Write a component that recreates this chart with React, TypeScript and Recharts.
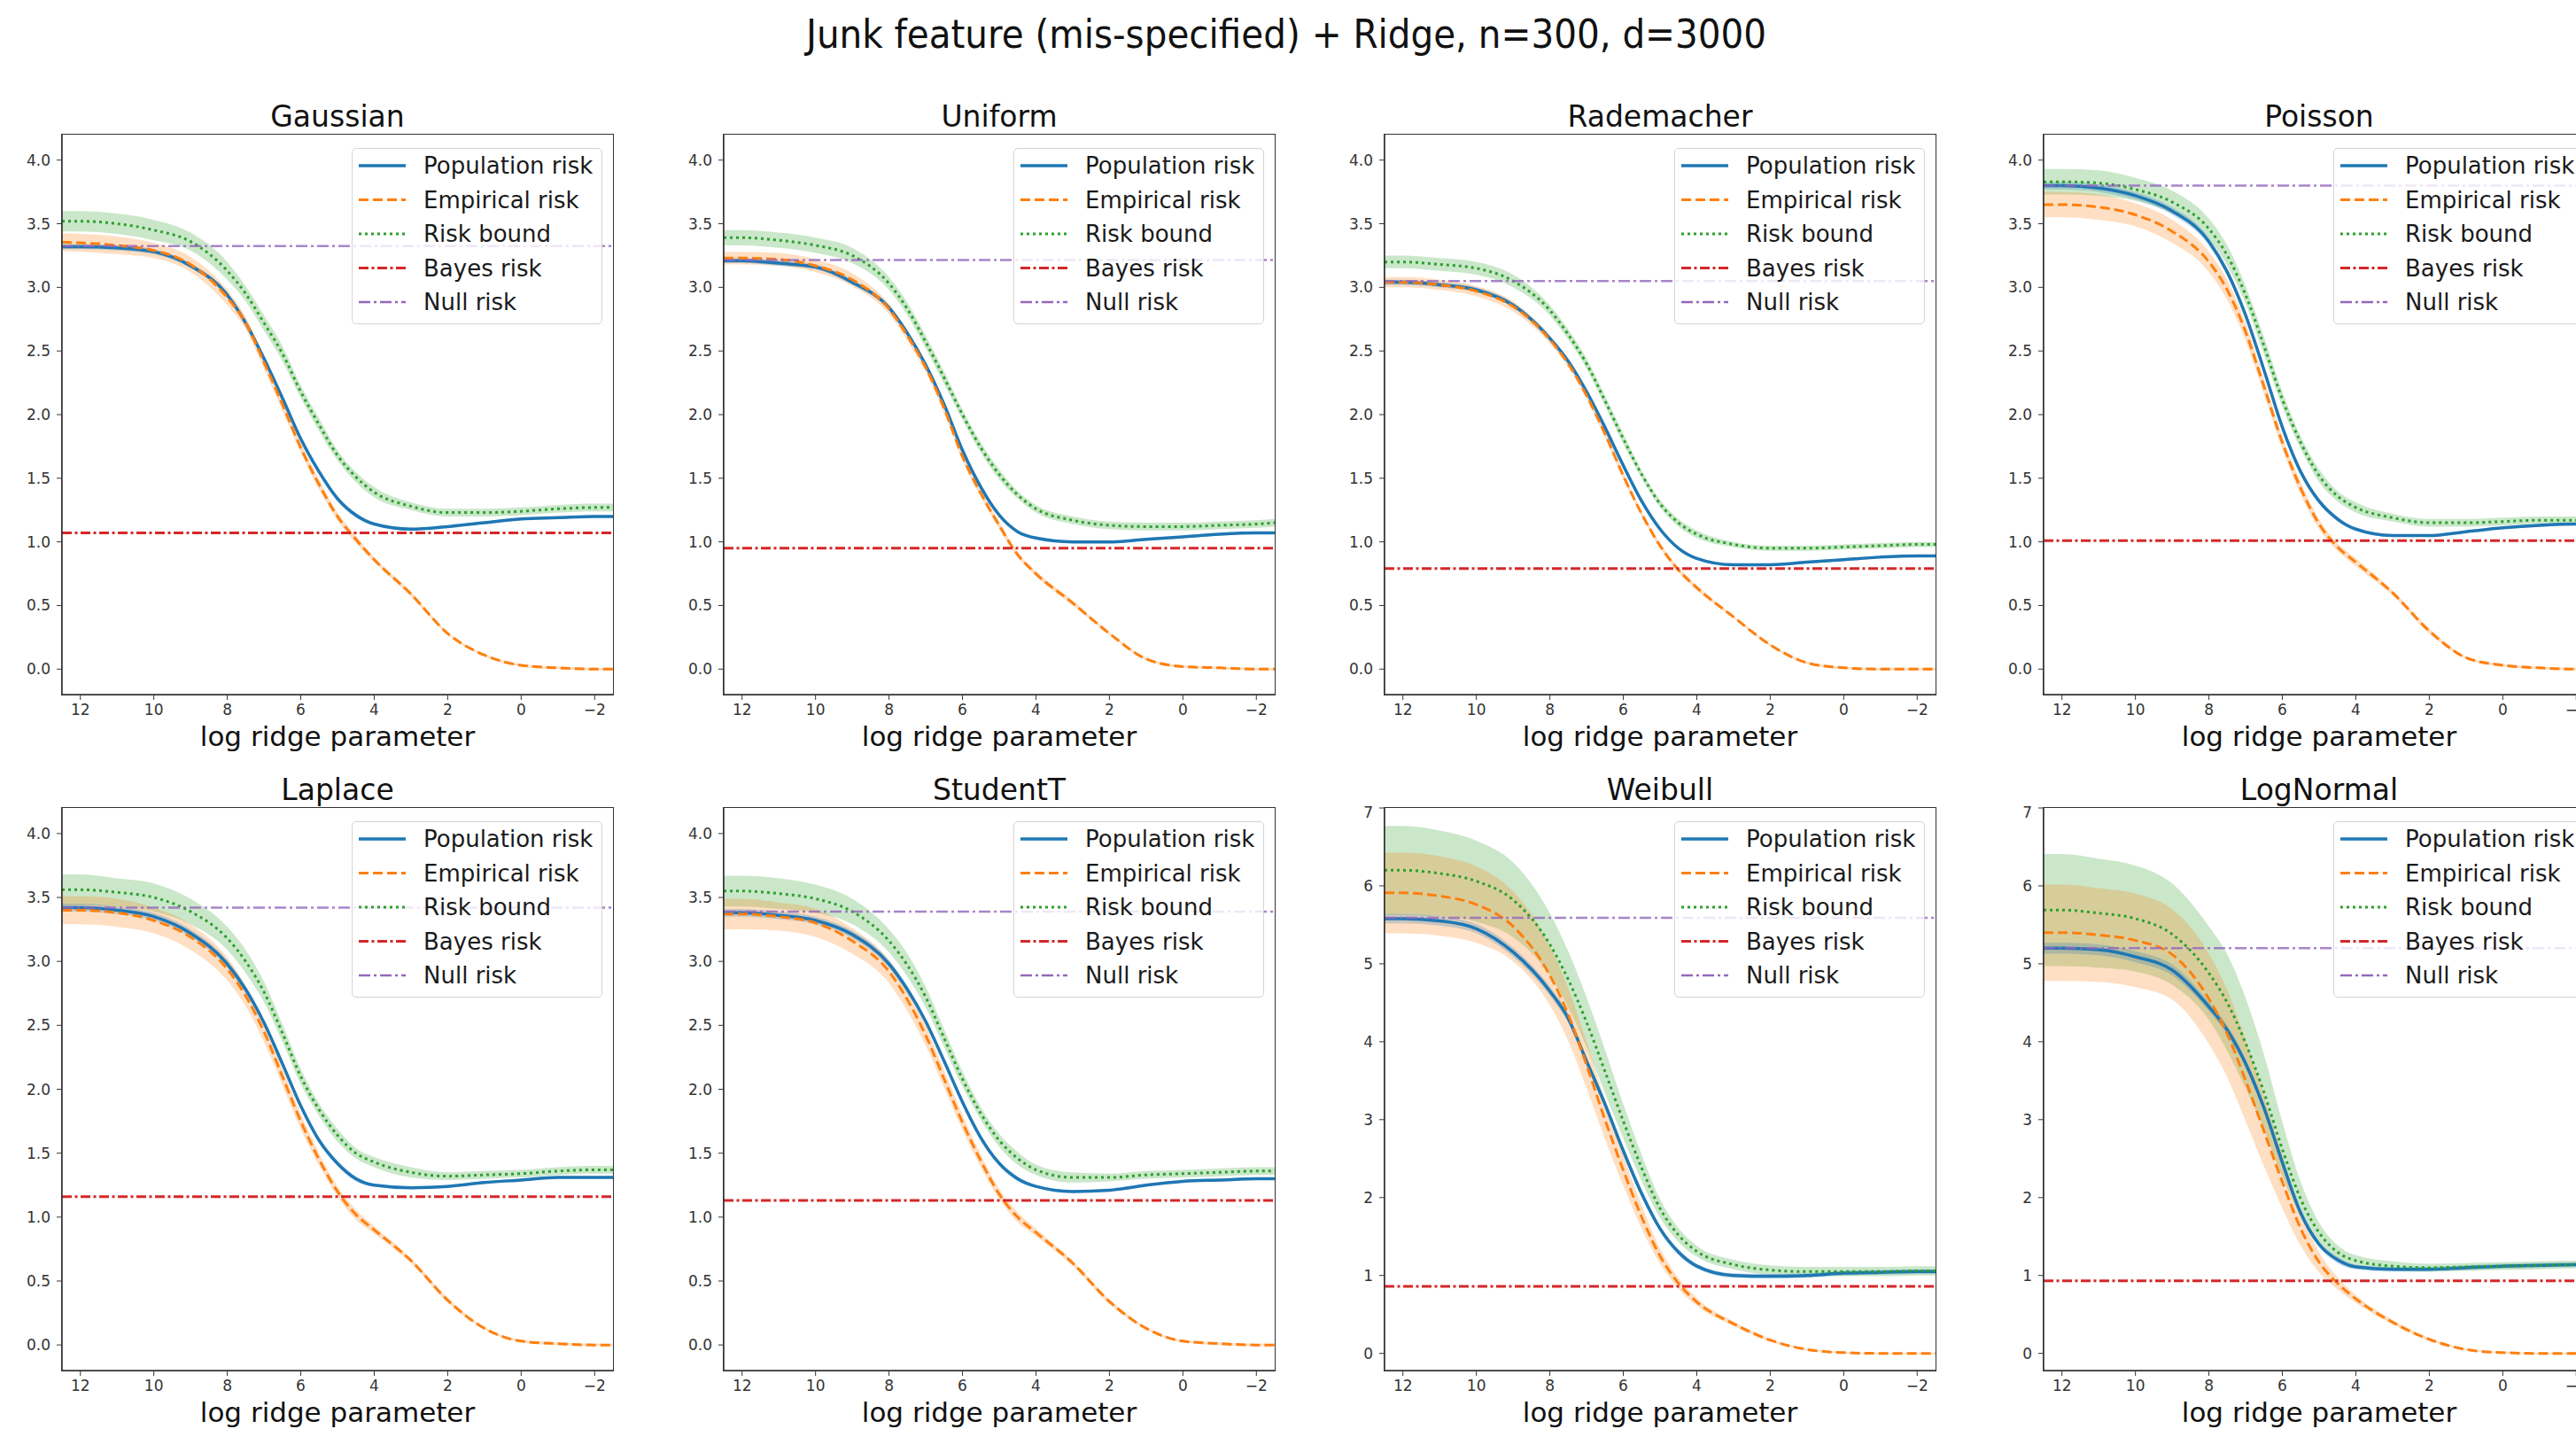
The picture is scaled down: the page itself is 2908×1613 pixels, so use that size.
import { Area, ComposedChart, Line, ReferenceLine, XAxis, YAxis } from 'recharts'

// log ridge parameter grid (the x axis runs from 12.5 down to -2.5)
const logRidge = [12.5, 12, 11, 10, 9, 8, 7.5, 7, 6.5, 6, 5.5, 5, 4.5, 4, 3, 2, 1, 0, -1, -2, -2.5]
const xTicks = [12, 10, 8, 6, 4, 2, 0, -2]
const smallYTicks = [0, 0.5, 1, 1.5, 2, 2.5, 3, 3.5, 4]
const largeYTicks = [0, 1, 2, 3, 4, 5, 6, 7]

const panelNames = ['Gaussian', 'Uniform', 'Rademacher', 'Poisson', 'Laplace', 'StudentT', 'Weibull', 'LogNormal']
const bayesRisk = [1.07, 0.95, 0.79, 1.01, 1.16, 1.13, 0.86, 0.93]
const nullRisk = [3.325, 3.215, 3.05, 3.8, 3.42, 3.39, 5.59, 5.2]

// Gaussian
const gaussianPop = [3.32, 3.32, 3.31, 3.28, 3.17, 2.94, 2.72, 2.44, 2.13, 1.81, 1.55, 1.34, 1.21, 1.14, 1.1, 1.12, 1.15, 1.18, 1.19, 1.2, 1.2]
const gaussianEmp = [3.355, 3.35, 3.33, 3.29, 3.18, 2.92, 2.72, 2.41, 2.08, 1.74, 1.45, 1.2, 1.02, 0.86, 0.59, 0.28, 0.11, 0.03, 0.01, 0.0, 0.0]
const gaussianBound = [3.52, 3.52, 3.5, 3.45, 3.36, 3.13, 2.95, 2.72, 2.48, 2.18, 1.92, 1.68, 1.51, 1.39, 1.28, 1.23, 1.23, 1.24, 1.26, 1.27, 1.27]
const gaussianPopBand = [0.02, 0.02, 0.02, 0.02, 0.02, 0.02, 0.02, 0.02, 0.02, 0.02, 0.02, 0.02, 0.02, 0.01, 0.01, 0.01, 0.01, 0.01, 0.01, 0.01, 0.01]
const gaussianEmpBand = [0.07, 0.07, 0.07, 0.06, 0.06, 0.06, 0.05, 0.05, 0.05, 0.04, 0.04, 0.03, 0.03, 0.02, 0.02, 0.01, 0.01, 0.01, 0.01, 0.01, 0.01]
const gaussianBoundBand = [0.08, 0.08, 0.08, 0.08, 0.07, 0.07, 0.06, 0.06, 0.06, 0.05, 0.05, 0.04, 0.04, 0.04, 0.03, 0.03, 0.03, 0.03, 0.03, 0.03, 0.03]

// Uniform
const uniformPop = [3.21, 3.21, 3.19, 3.16, 3.04, 2.84, 2.64, 2.39, 2.08, 1.72, 1.43, 1.21, 1.08, 1.03, 1.0, 1.0, 1.02, 1.04, 1.06, 1.07, 1.07]
const uniformEmp = [3.23, 3.23, 3.22, 3.17, 3.06, 2.83, 2.62, 2.37, 2.05, 1.67, 1.38, 1.13, 0.9, 0.75, 0.52, 0.28, 0.08, 0.02, 0.01, 0.0, 0.0]
const uniformBound = [3.39, 3.39, 3.37, 3.33, 3.25, 3.03, 2.83, 2.57, 2.29, 2.0, 1.74, 1.53, 1.37, 1.26, 1.17, 1.13, 1.12, 1.12, 1.13, 1.14, 1.15]
const uniformPopBand = [0.02, 0.02, 0.02, 0.02, 0.02, 0.02, 0.02, 0.02, 0.02, 0.02, 0.02, 0.01, 0.01, 0.01, 0.01, 0.01, 0.01, 0.01, 0.01, 0.01, 0.01]
const uniformEmpBand = [0.05, 0.05, 0.05, 0.05, 0.05, 0.04, 0.04, 0.04, 0.04, 0.03, 0.03, 0.03, 0.02, 0.02, 0.02, 0.01, 0.01, 0.01, 0.01, 0.01, 0.01]
const uniformBoundBand = [0.06, 0.06, 0.06, 0.06, 0.06, 0.05, 0.05, 0.05, 0.05, 0.04, 0.04, 0.04, 0.03, 0.03, 0.03, 0.03, 0.03, 0.03, 0.03, 0.03, 0.03]

// Rademacher
const rademacherPop = [3.04, 3.04, 3.02, 2.98, 2.86, 2.6, 2.42, 2.18, 1.9, 1.6, 1.32, 1.1, 0.95, 0.87, 0.82, 0.82, 0.84, 0.86, 0.88, 0.89, 0.89]
const rademacherEmp = [3.04, 3.04, 3.02, 2.97, 2.85, 2.59, 2.4, 2.15, 1.85, 1.52, 1.22, 0.97, 0.78, 0.64, 0.41, 0.19, 0.05, 0.01, 0.0, 0.0, 0.0]
const rademacherBound = [3.2, 3.2, 3.18, 3.15, 3.05, 2.82, 2.63, 2.4, 2.11, 1.81, 1.53, 1.3, 1.15, 1.06, 0.98, 0.95, 0.95, 0.96, 0.97, 0.98, 0.98]
const rademacherPopBand = [0.02, 0.02, 0.02, 0.02, 0.02, 0.02, 0.02, 0.02, 0.02, 0.02, 0.01, 0.01, 0.01, 0.01, 0.01, 0.01, 0.01, 0.01, 0.01, 0.01, 0.01]
const rademacherEmpBand = [0.04, 0.04, 0.04, 0.04, 0.04, 0.03, 0.03, 0.03, 0.03, 0.03, 0.02, 0.02, 0.02, 0.02, 0.01, 0.01, 0.01, 0.01, 0.01, 0.01, 0.01]
const rademacherBoundBand = [0.05, 0.05, 0.05, 0.05, 0.05, 0.04, 0.04, 0.04, 0.04, 0.04, 0.03, 0.03, 0.03, 0.03, 0.02, 0.02, 0.02, 0.02, 0.02, 0.02, 0.02]

// Poisson
const poissonPop = [3.8, 3.8, 3.78, 3.72, 3.6, 3.36, 3.12, 2.78, 2.35, 1.9, 1.55, 1.32, 1.18, 1.1, 1.05, 1.05, 1.08, 1.11, 1.13, 1.14, 1.14]
const poissonEmp = [3.65, 3.65, 3.63, 3.57, 3.44, 3.2, 2.98, 2.65, 2.22, 1.78, 1.42, 1.14, 0.96, 0.84, 0.6, 0.3, 0.09, 0.03, 0.01, 0.0, 0.0]
const poissonBound = [3.83, 3.83, 3.82, 3.77, 3.67, 3.46, 3.25, 2.94, 2.54, 2.12, 1.78, 1.52, 1.36, 1.27, 1.19, 1.15, 1.15, 1.16, 1.17, 1.17, 1.17]
const poissonPopBand = [0.03, 0.03, 0.03, 0.03, 0.03, 0.03, 0.03, 0.02, 0.02, 0.02, 0.02, 0.02, 0.02, 0.01, 0.01, 0.01, 0.01, 0.01, 0.01, 0.01, 0.01]
const poissonEmpBand = [0.1, 0.1, 0.1, 0.09, 0.09, 0.08, 0.08, 0.07, 0.06, 0.05, 0.05, 0.04, 0.03, 0.03, 0.02, 0.02, 0.01, 0.01, 0.01, 0.01, 0.01]
const poissonBoundBand = [0.1, 0.1, 0.1, 0.09, 0.09, 0.08, 0.08, 0.07, 0.07, 0.06, 0.05, 0.05, 0.04, 0.04, 0.03, 0.03, 0.03, 0.03, 0.03, 0.03, 0.03]

// Laplace
const laplacePop = [3.42, 3.42, 3.4, 3.35, 3.22, 2.98, 2.78, 2.52, 2.2, 1.87, 1.6, 1.42, 1.3, 1.25, 1.23, 1.24, 1.27, 1.29, 1.31, 1.31, 1.31]
const laplaceEmp = [3.4, 3.4, 3.38, 3.32, 3.19, 2.94, 2.73, 2.45, 2.1, 1.75, 1.45, 1.2, 1.02, 0.9, 0.66, 0.35, 0.13, 0.03, 0.01, 0.0, 0.0]
const laplaceBound = [3.56, 3.56, 3.54, 3.5, 3.39, 3.18, 3.0, 2.76, 2.44, 2.1, 1.84, 1.64, 1.5, 1.43, 1.35, 1.32, 1.33, 1.34, 1.36, 1.37, 1.37]
const laplacePopBand = [0.03, 0.03, 0.03, 0.03, 0.03, 0.03, 0.03, 0.02, 0.02, 0.02, 0.02, 0.02, 0.02, 0.01, 0.01, 0.01, 0.01, 0.01, 0.01, 0.01, 0.01]
const laplaceEmpBand = [0.11, 0.11, 0.11, 0.1, 0.1, 0.09, 0.08, 0.08, 0.07, 0.06, 0.05, 0.04, 0.04, 0.03, 0.02, 0.02, 0.01, 0.01, 0.01, 0.01, 0.01]
const laplaceBoundBand = [0.12, 0.12, 0.11, 0.11, 0.1, 0.09, 0.09, 0.08, 0.07, 0.06, 0.05, 0.05, 0.04, 0.04, 0.04, 0.03, 0.03, 0.03, 0.03, 0.03, 0.03]

// StudentT
const studentPop = [3.38, 3.38, 3.36, 3.32, 3.21, 2.98, 2.78, 2.53, 2.22, 1.9, 1.62, 1.42, 1.3, 1.24, 1.2, 1.21, 1.25, 1.28, 1.29, 1.3, 1.3]
const studentEmp = [3.37, 3.37, 3.35, 3.3, 3.16, 2.92, 2.7, 2.42, 2.08, 1.74, 1.44, 1.18, 1.0, 0.88, 0.64, 0.34, 0.13, 0.03, 0.01, 0.0, 0.0]
const studentBound = [3.55, 3.55, 3.53, 3.49, 3.39, 3.16, 2.97, 2.72, 2.4, 2.08, 1.81, 1.6, 1.46, 1.37, 1.31, 1.31, 1.33, 1.34, 1.35, 1.36, 1.36]
const studentPopBand = [0.03, 0.03, 0.03, 0.03, 0.03, 0.03, 0.03, 0.02, 0.02, 0.02, 0.02, 0.02, 0.02, 0.01, 0.01, 0.01, 0.01, 0.01, 0.01, 0.01, 0.01]
const studentEmpBand = [0.12, 0.12, 0.11, 0.11, 0.1, 0.09, 0.09, 0.08, 0.07, 0.06, 0.05, 0.04, 0.04, 0.03, 0.02, 0.02, 0.01, 0.01, 0.01, 0.01, 0.01]
const studentBoundBand = [0.12, 0.12, 0.12, 0.11, 0.1, 0.09, 0.09, 0.08, 0.07, 0.06, 0.05, 0.05, 0.05, 0.04, 0.04, 0.03, 0.03, 0.03, 0.03, 0.03, 0.03]

// Weibull
const weibullPop = [5.58, 5.58, 5.55, 5.45, 5.15, 4.65, 4.3, 3.75, 3.2, 2.6, 2.05, 1.6, 1.3, 1.12, 1.0, 0.99, 1.0, 1.03, 1.04, 1.05, 1.05]
const weibullEmp = [5.91, 5.91, 5.87, 5.76, 5.48, 4.85, 4.35, 3.7, 3.0, 2.35, 1.75, 1.25, 0.9, 0.66, 0.38, 0.17, 0.05, 0.01, 0.0, 0.0, 0.0]
const weibullBound = [6.2, 6.2, 6.16, 6.06, 5.82, 5.25, 4.8, 4.25, 3.62, 2.98, 2.38, 1.86, 1.52, 1.31, 1.14, 1.07, 1.05, 1.05, 1.05, 1.06, 1.06]
const weibullPopBand = [0.06, 0.06, 0.06, 0.06, 0.06, 0.06, 0.06, 0.05, 0.05, 0.05, 0.05, 0.04, 0.04, 0.03, 0.03, 0.03, 0.03, 0.03, 0.03, 0.03, 0.03]
const weibullEmpBand = [0.52, 0.52, 0.51, 0.49, 0.45, 0.38, 0.34, 0.3, 0.25, 0.2, 0.15, 0.1, 0.07, 0.05, 0.03, 0.02, 0.01, 0.01, 0.01, 0.01, 0.01]
const weibullBoundBand = [0.57, 0.57, 0.55, 0.52, 0.48, 0.4, 0.36, 0.32, 0.28, 0.22, 0.17, 0.12, 0.09, 0.07, 0.06, 0.06, 0.06, 0.06, 0.06, 0.06, 0.06]

// LogNormal
const lognormalPop = [5.2, 5.2, 5.18, 5.09, 4.92, 4.45, 4.15, 3.72, 3.15, 2.45, 1.8, 1.4, 1.2, 1.11, 1.08, 1.08, 1.1, 1.12, 1.13, 1.14, 1.14]
const lognormalEmp = [5.4, 5.4, 5.37, 5.3, 5.12, 4.55, 4.1, 3.5, 2.85, 2.2, 1.6, 1.17, 0.9, 0.7, 0.4, 0.18, 0.05, 0.01, 0.0, 0.0, 0.0]
const lognormalBound = [5.69, 5.69, 5.65, 5.58, 5.38, 4.88, 4.5, 3.98, 3.35, 2.62, 1.98, 1.55, 1.3, 1.19, 1.12, 1.1, 1.11, 1.12, 1.13, 1.14, 1.14]
const lognormalPopBand = [0.07, 0.07, 0.07, 0.07, 0.07, 0.06, 0.06, 0.06, 0.05, 0.05, 0.05, 0.04, 0.04, 0.03, 0.03, 0.03, 0.03, 0.03, 0.03, 0.03, 0.03]
const lognormalEmpBand = [0.62, 0.62, 0.6, 0.6, 0.58, 0.58, 0.56, 0.52, 0.45, 0.34, 0.22, 0.13, 0.08, 0.05, 0.03, 0.02, 0.01, 0.01, 0.01, 0.01, 0.01]
const lognormalBoundBand = [0.72, 0.72, 0.7, 0.68, 0.65, 0.6, 0.62, 0.58, 0.48, 0.35, 0.22, 0.13, 0.09, 0.07, 0.06, 0.05, 0.05, 0.05, 0.05, 0.05, 0.05]

const popSeries = [gaussianPop, uniformPop, rademacherPop, poissonPop, laplacePop, studentPop, weibullPop, lognormalPop]
const empSeries = [gaussianEmp, uniformEmp, rademacherEmp, poissonEmp, laplaceEmp, studentEmp, weibullEmp, lognormalEmp]
const boundSeries = [gaussianBound, uniformBound, rademacherBound, poissonBound, laplaceBound, studentBound, weibullBound, lognormalBound]
const popBands = [gaussianPopBand, uniformPopBand, rademacherPopBand, poissonPopBand, laplacePopBand, studentPopBand, weibullPopBand, lognormalPopBand]
const empBands = [gaussianEmpBand, uniformEmpBand, rademacherEmpBand, poissonEmpBand, laplaceEmpBand, studentEmpBand, weibullEmpBand, lognormalEmpBand]
const boundBands = [gaussianBoundBand, uniformBoundBand, rademacherBoundBand, poissonBoundBand, laplaceBoundBand, studentBoundBand, weibullBoundBand, lognormalBoundBand]

const BLUE = '#1f77b4'
const ORANGE = '#ff7f0e'
const GREEN = '#2ca02c'
const RED = '#d62728'
const PURPLE = '#9467bd'
const FONT = "'DejaVu Sans', 'Liberation Sans', sans-serif"

// frame geometry in page pixels
const COL_LEFT = [70, 817, 1563, 2307]
const ROW_TOP = [152, 912]
const ROW_H = [632, 635]
const FRAME_W = 622
const Y_AXIS_W = 70
const X_AXIS_H = 70

const legendRows = [
  { label: 'Population risk', color: BLUE, dash: undefined, width: 3.5 },
  { label: 'Empirical risk', color: ORANGE, dash: '11 5', width: 3 },
  { label: 'Risk bound', color: GREEN, dash: '3 4', width: 3 },
  { label: 'Bayes risk', color: RED, dash: '11 3.5 3 3.5', width: 3 },
  { label: 'Null risk', color: PURPLE, dash: '13 4 3 4', width: 2.5 },
]

function PanelLegend({ left, top }: { left: number; top: number }) {
  return (
    <div
      style={{
        position: 'absolute',
        left,
        top,
        width: 283,
        height: 199,
        boxSizing: 'border-box',
        border: '1.5px solid #d4d4d4',
        borderRadius: 5,
        background: 'rgba(255,255,255,0.8)',
      }}
    >
      <svg width={283} height={199} style={{ position: 'absolute', left: -1.5, top: -1.5 }}>
        {legendRows.map((r, i) => {
          const y = 20 + i * 38.5
          return (
            <g key={r.label}>
              <line x1={8} x2={61} y1={y} y2={y} stroke={r.color} strokeWidth={r.width} strokeDasharray={r.dash} />
              <text x={81} y={y} dominantBaseline="central" fontSize={26} fontFamily={FONT} fill="#1a1a1a">
                {r.label}
              </text>
            </g>
          )
        })}
      </svg>
    </div>
  )
}

function Panel({ idx }: { idx: number }) {
  const row = idx < 4 ? 0 : 1
  const col = idx % 4
  const frameLeft = COL_LEFT[col]
  const frameTop = ROW_TOP[row]
  const frameH = ROW_H[row]
  const large = idx >= 6
  const yDomain = large ? [-0.22, 7] : [-0.2, 4.2]
  const pop = popSeries[idx]
  const emp = empSeries[idx]
  const bound = boundSeries[idx]
  const data = logRidge.map((x, i) => ({
    x,
    pop: pop[i],
    emp: emp[i],
    bound: bound[i],
    popRange: [pop[i] - popBands[idx][i], pop[i] + popBands[idx][i]],
    empRange: [emp[i] - empBands[idx][i], emp[i] + empBands[idx][i]],
    boundRange: [bound[i] - boundBands[idx][i], bound[i] + boundBands[idx][i]],
  }))
  const chartW = Y_AXIS_W + FRAME_W + 10
  const chartH = frameH + 5 + X_AXIS_H
  const tickStyle = { fontSize: 17, fill: '#333', fontFamily: FONT }

  return (
    <>
      <div
        style={{
          position: 'absolute',
          left: frameLeft,
          top: frameTop - 37,
          width: FRAME_W,
          textAlign: 'center',
          fontSize: 33,
          lineHeight: '33px',
          fontFamily: FONT,
          color: '#111',
        }}
      >
        {panelNames[idx]}
      </div>
      <div style={{ position: 'absolute', left: frameLeft - Y_AXIS_W, top: frameTop - 5 }}>
        <ComposedChart width={chartW} height={chartH} data={data} margin={{ top: 5, right: 10, left: 0, bottom: 0 }}>
          <XAxis
            dataKey="x"
            type="number"
            domain={[-2.5, 12.5]}
            allowDataOverflow
            reversed
            ticks={xTicks}
            tickFormatter={(v: number) => (v < 0 ? '\u2212' + Math.abs(v) : String(v))}
            height={X_AXIS_H}
            tick={tickStyle}
            tickSize={6}
            tickMargin={5}
            axisLine={{ stroke: '#333', strokeWidth: 1.5 }}
            tickLine={{ stroke: '#333' }}
            label={(props: any) => {
              const vb = props.viewBox
              return (
                <text x={vb.x + vb.width / 2} y={vb.y + 58} textAnchor="middle" fontSize={31} fontFamily={FONT} fill="#111">
                  log ridge parameter
                </text>
              )
            }}
          />
          <YAxis
            type="number"
            domain={yDomain}
            allowDataOverflow
            ticks={large ? largeYTicks : smallYTicks}
            tickFormatter={(v: number) => (large ? String(v) : v.toFixed(1))}
            width={Y_AXIS_W}
            tick={tickStyle}
            tickSize={6}
            tickMargin={7}
            axisLine={{ stroke: '#333', strokeWidth: 1.5 }}
            tickLine={{ stroke: '#333' }}
          />
          <Area dataKey="boundRange" type="monotone" stroke="none" fill={GREEN} fillOpacity={0.25} dot={false} activeDot={false} isAnimationActive={false} />
          <Area dataKey="empRange" type="monotone" stroke="none" fill={ORANGE} fillOpacity={0.25} dot={false} activeDot={false} isAnimationActive={false} />
          <Area dataKey="popRange" type="monotone" stroke="none" fill={BLUE} fillOpacity={0.25} dot={false} activeDot={false} isAnimationActive={false} />
          <Line dataKey="pop" type="monotone" stroke={BLUE} strokeWidth={3.5} dot={false} activeDot={false} isAnimationActive={false} />
          <Line dataKey="emp" type="monotone" stroke={ORANGE} strokeWidth={3} strokeDasharray="11 5" dot={false} activeDot={false} isAnimationActive={false} />
          <Line dataKey="bound" type="monotone" stroke={GREEN} strokeWidth={3} strokeDasharray="3 4" dot={false} activeDot={false} isAnimationActive={false} />
          <ReferenceLine y={bayesRisk[idx]} stroke={RED} strokeWidth={3} strokeDasharray="11 3.5 3 3.5" />
          <ReferenceLine y={nullRisk[idx]} stroke={PURPLE} strokeWidth={2.5} strokeOpacity={0.8} strokeDasharray="13 4 3 4" />
        </ComposedChart>
      </div>
      {/* top and right spines of the axes box */}
      <div
        style={{
          position: 'absolute',
          left: frameLeft - 0.75,
          top: frameTop - 0.75,
          width: FRAME_W + 1.5,
          height: frameH + 1.5,
          boxSizing: 'border-box',
          border: '1.5px solid #333',
          pointerEvents: 'none',
        }}
      />
      <PanelLegend left={frameLeft + FRAME_W - 12 - 283} top={frameTop + 15} />
    </>
  )
}

export default function App() {
  return (
    <div
      style={{
        position: 'absolute',
        left: 0,
        top: 0,
        width: 2908,
        height: 1613,
        overflow: 'hidden',
        background: '#fff',
      }}
    >
      <div
        style={{
          position: 'absolute',
          left: 0,
          top: 16,
          width: 2904,
          textAlign: 'center',
          fontSize: 45,
          lineHeight: '45px',
          fontFamily: "'DejaVu Sans Condensed', 'DejaVu Sans', sans-serif",
          fontStretch: 'condensed',
          color: '#111',
        }}
      >
        Junk feature (mis-specified) + Ridge, n=300, d=3000
      </div>
      {panelNames.map((_, i) => (
        <Panel key={i} idx={i} />
      ))}
    </div>
  )
}
